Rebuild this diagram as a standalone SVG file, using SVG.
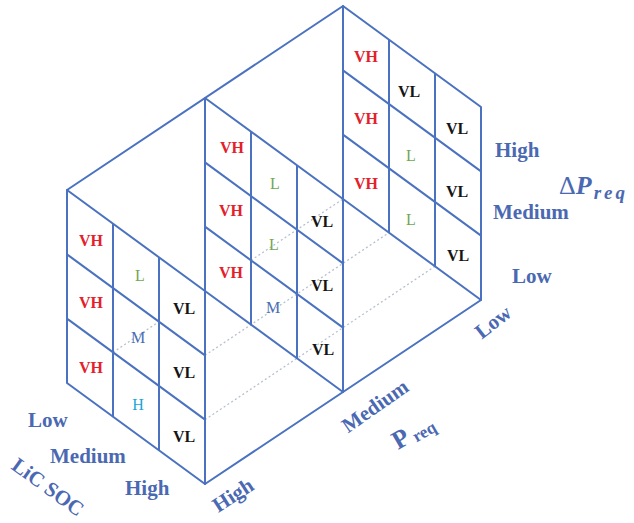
<svg xmlns="http://www.w3.org/2000/svg" width="634" height="523" viewBox="0 0 634 523">
<style>
.bg{fill:#ffffff}
.grid{fill:none;stroke:#4a72c0;stroke-width:2;stroke-linejoin:round;stroke-linecap:round}
.dot{fill:none;stroke:#b9c1cf;stroke-width:1.3;stroke-dasharray:2 2.5}
.cell{font-family:"Liberation Serif","Times New Roman",serif;font-size:16px;font-weight:bold;text-anchor:middle}
.vh{fill:#e4202a}
.vl{fill:#151515}
.l{fill:#70a852;font-weight:normal}
.m{fill:#4a6fb5;font-weight:normal}
.h{fill:#1aa6d6;font-weight:normal}
.axis{font-family:"Liberation Serif","Times New Roman",serif;font-size:21px;font-weight:bold;fill:#4a69b2}
</style>
<rect class="bg" x="0" y="0" width="634" height="523"/>

<g id="connectors">
  <path class="dot" d="M205,355.33 L389,232.67 M205,419.67 L435,266.33 M113,352.33 L159,321.67 M251,260.33 L343,199"/>
  <path class="grid" d="M67,190 L343,6 M205,484 L481,300"/>
</g>

<g id="slab-front">
  <path class="grid" d="M67,190 L205,291 L205,484 L67,383 Z M113,223.67 V416.67 M159,257.33 V450.33 M67,254.33 L205,355.33 M67,318.67 L205,419.67"/>
  <text class="cell vh" x="91" y="246">VH</text>
  <text class="cell l" x="140" y="281">L</text>
  <text class="cell vl" x="184" y="314">VL</text>
  <text class="cell vh" x="91" y="308">VH</text>
  <text class="cell m" x="138" y="343">M</text>
  <text class="cell vl" x="184" y="378">VL</text>
  <text class="cell vh" x="91" y="373">VH</text>
  <text class="cell h" x="138" y="410">H</text>
  <text class="cell vl" x="184" y="442">VL</text>
</g>

<g id="slab-middle">
  <path class="grid" d="M205,98 L343,199 L343,392 L205,291 Z M251,131.67 V324.67 M297,165.33 V358.33 M205,162.33 L343,263.33 M205,226.67 L343,327.67"/>
  <text class="cell vh" x="232" y="153">VH</text>
  <text class="cell l" x="275" y="189">L</text>
  <text class="cell vl" x="322" y="227">VL</text>
  <text class="cell vh" x="231" y="216">VH</text>
  <text class="cell l" x="274" y="250">L</text>
  <text class="cell vl" x="322" y="291">VL</text>
  <text class="cell vh" x="231" y="278">VH</text>
  <text class="cell m" x="273" y="313">M</text>
  <text class="cell vl" x="323" y="355">VL</text>
</g>

<g id="slab-back">
  <path class="grid" d="M343,6 L481,107 L481,300 L343,199 Z M389,39.67 V232.67 M435,73.33 V266.33 M343,70.33 L481,171.33 M343,134.67 L481,235.67"/>
  <text class="cell vh" x="366" y="62">VH</text>
  <text class="cell vl" x="409" y="97">VL</text>
  <text class="cell vl" x="457" y="134">VL</text>
  <text class="cell vh" x="366" y="124">VH</text>
  <text class="cell l" x="411" y="161">L</text>
  <text class="cell vl" x="457" y="197">VL</text>
  <text class="cell vh" x="366" y="189">VH</text>
  <text class="cell l" x="411" y="225">L</text>
  <text class="cell vl" x="458" y="261">VL</text>
</g>

<g id="axis-dpreq">
  <text class="axis" x="495" y="157">High</text>
  <text class="axis" x="493" y="219">Medium</text>
  <text class="axis" x="512" y="283">Low</text>
  <text class="axis" x="559" y="194" style="font-size:26px"><tspan style="font-weight:normal">Δ</tspan><tspan style="font-style:italic">P</tspan><tspan style="font-style:italic;font-size:19px;letter-spacing:3px" dx="2" dy="5">req</tspan></text>
</g>

<g id="axis-soc">
  <text class="axis" x="28" y="427">Low</text>
  <text class="axis" x="50" y="463">Medium</text>
  <text class="axis" x="125" y="495">High</text>
  <text class="axis" x="48" y="494" text-anchor="middle" transform="rotate(36 48 487)">LiC SOC</text>
</g>

<g id="axis-preq">
  <text class="axis" x="233" y="502" text-anchor="middle" transform="rotate(-33 233 495)">High</text>
  <text class="axis" x="375" y="413" text-anchor="middle" transform="rotate(-35 375 406)">Medium</text>
  <text class="axis" x="493" y="329" text-anchor="middle" transform="rotate(-38 493 322)">Low</text>
  <text class="axis" x="413" y="440" text-anchor="middle" transform="rotate(-30 413 432)" style="font-size:26px">P<tspan style="font-size:17px" dx="4" dy="3">req</tspan></text>
</g>
</svg>
